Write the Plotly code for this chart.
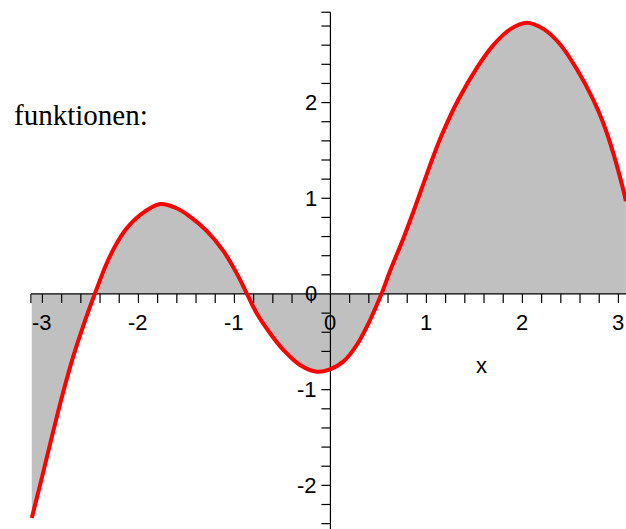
import numpy as np
import plotly.graph_objects as go

# Sampled points of the plotted function
x_vals = [-3.111, -3.025, -2.955, -2.869, -2.782, -2.678, -2.574, -2.452, -2.330, -2.226,
          -2.122, -1.983, -1.775, -1.601, -1.463, -1.289, -1.116, -0.976, -0.872, -0.768,
          -0.629, -0.491, -0.317, -0.143, -0.004, 0.134, 0.274, 0.413, 0.534, 0.621,
          0.759, 0.864, 0.968, 1.072, 1.176, 1.332, 1.524, 1.697, 1.871, 2.045,
          2.218, 2.392, 2.566, 2.739, 2.843, 2.947, 3.051, 3.078]
y_vals = [-2.340, -2.000, -1.710, -1.360, -1.020, -0.650, -0.330, 0.007, 0.321, 0.530,
          0.687, 0.825, 0.940, 0.896, 0.808, 0.660, 0.450, 0.215, 0.007, -0.202,
          -0.411, -0.585, -0.742, -0.812, -0.787, -0.707, -0.533, -0.272, 0.007, 0.240,
          0.580, 0.860, 1.150, 1.440, 1.700, 2.030, 2.360, 2.600, 2.765, 2.835,
          2.770, 2.610, 2.350, 2.027, 1.784, 1.470, 1.087, 0.970]

# Axis ticks and labels
x_tick_labels = ["-3", "-2", "-1", "0", "1", "2", "3"]
y_tick_labels = ["-2", "-1", "0", "1", "2"]
x_minor_ticks = [round(v, 1) for v in np.arange(-3.0, 3.01, 0.2) if abs(v) > 1e-9]
y_minor_ticks = [round(v, 1) for v in np.arange(-2.4, 2.81, 0.2) if abs(v) > 1e-9]
x_axis_start = -3.12
y_axis_top = 2.944

X_RANGE = [-3.442, 3.079]
Y_RANGE = [-2.456, 3.072]
W, H = 626, 529
px_x = (X_RANGE[1] - X_RANGE[0]) / W   # data units per pixel
px_y = (Y_RANGE[1] - Y_RANGE[0]) / H
TICK_LEN = 9

fig = go.Figure()

# shaded area between the curve and the x-axis
fig.add_trace(go.Scatter(
    x=x_vals, y=y_vals, mode="lines", line=dict(width=0, shape="spline", smoothing=1.0),
    fill="tozeroy", fillcolor="#C0C0C0", hoverinfo="skip", showlegend=False))

# x-axis line and its ticks (hanging below)
fig.add_trace(go.Scatter(x=[x_axis_start, 3.3], y=[0, 0], mode="lines",
                         line=dict(color="black", width=1.2), hoverinfo="skip", showlegend=False))
tx, ty = [], []
for t in [x_axis_start] + x_minor_ticks:
    tx += [t, t, None]
    ty += [0, -TICK_LEN * px_y, None]
fig.add_trace(go.Scatter(x=tx, y=ty, mode="lines", line=dict(color="black", width=1.2),
                         hoverinfo="skip", showlegend=False))

# y-axis line and its ticks (to the left)
fig.add_trace(go.Scatter(x=[0, 0], y=[-2.6, y_axis_top], mode="lines",
                         line=dict(color="black", width=1.2), hoverinfo="skip", showlegend=False))
sx, sy = [], []
for t in y_minor_ticks + [y_axis_top]:
    sx += [0, -TICK_LEN * px_x, None]
    sy += [t, t, None]
fig.add_trace(go.Scatter(x=sx, y=sy, mode="lines", line=dict(color="black", width=1.2),
                         hoverinfo="skip", showlegend=False))

# the curve itself
fig.add_trace(go.Scatter(
    x=x_vals, y=y_vals, mode="lines", line=dict(color="#FF0000", width=4, shape="spline", smoothing=1.0),
    hoverinfo="skip", showlegend=False))

label_font = dict(family="Liberation Sans, Arial, sans-serif", size=22, color="black")
annotations = []
for lab in x_tick_labels:
    annotations.append(dict(x=float(lab), y=0, xref="x", yref="y", text=lab, showarrow=False,
                            xanchor="center", yanchor="middle", yshift=-29, font=label_font))
for lab in y_tick_labels:
    annotations.append(dict(x=0, y=float(lab), xref="x", yref="y", text=lab, showarrow=False,
                            xanchor="right", yanchor="middle", xshift=-11, font=label_font))
annotations.append(dict(x=1.57, y=-0.75, xref="x", yref="y", text="x", showarrow=False,
                        xanchor="center", yanchor="middle", font=label_font))
annotations.append(dict(x=12 / W, y=1 - 115 / H, xref="paper", yref="paper", text="funktionen:",
                        showarrow=False, xanchor="left", yanchor="middle",
                        font=dict(family="Liberation Serif, Times New Roman, serif", size=29, color="black")))

fig.update_layout(
    width=W, height=H, margin=dict(l=0, r=0, t=0, b=0),
    paper_bgcolor="white", plot_bgcolor="white",
    xaxis=dict(range=X_RANGE, visible=False, fixedrange=True),
    yaxis=dict(range=Y_RANGE, visible=False, fixedrange=True),
    annotations=annotations, showlegend=False,
)

fig.write_html("out.html")
